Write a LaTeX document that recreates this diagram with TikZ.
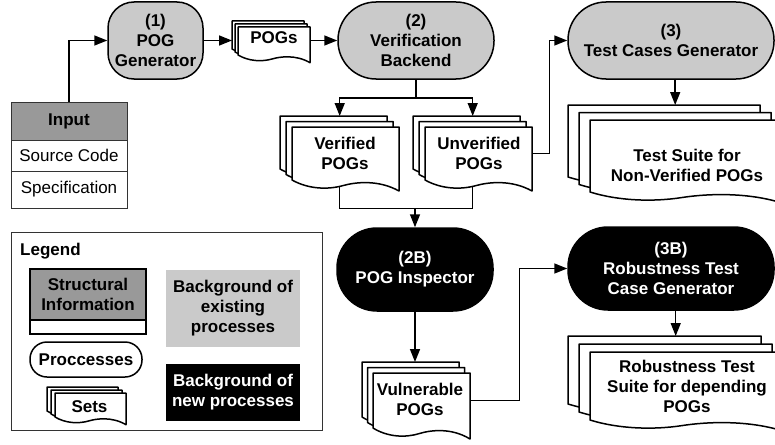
\documentclass[tikz,border=0pt]{standalone}
\usepackage{fontspec}
\setmainfont{Liberation Sans}
\usetikzlibrary{arrows.meta}
\pgfdeclarelayer{background}
\pgfsetlayers{background,main}
\definecolor{procgray}{HTML}{CACACA}
\definecolor{hdrgray}{HTML}{999999}
\definecolor{tblline}{HTML}{333333}
\newcommand\dfont{\fontsize{17}{20}\selectfont}
\newcommand\docpage[5]{%
  \draw[docline] ({#1},{#2}) -- ({#1+#3},{#2}) -- ({#1+#3},{#2+#4+1.1*#5})
    .. controls ({#1+0.8*#3},{#2+#4-0.1*#5}) and ({#1+0.58*#3},{#2+#4+0.25*#5}) .. ({#1+0.48*#3},{#2+#4+0.55*#5})
    .. controls ({#1+0.33*#3},{#2+#4+1.0*#5}) and ({#1+0.15*#3},{#2+#4+0.9*#5}) .. ({#1},{#2+#4}) -- cycle;}
\newcommand\docstack[8]{%
  \docpage{#2}{#3}{#6}{#7}{#8}%
  \docpage{#2+#4}{#3+#5}{#6}{#7}{#8}%
  \docpage{#2+2*#4}{#3+2*#5}{#6}{#7}{#8}%
  \pgfmathsetmacro\dsfx{#2+2*#4}\pgfmathsetmacro\dsfy{#3+2*#5}%
  \pgfmathsetmacro\dsaw{#6+2*#4}\pgfmathsetmacro\dsah{#7+2*#5}%
  \node[inner sep=0pt, minimum width=#6pt, minimum height=#7pt, anchor=north west] (#1) at (\dsfx,\dsfy) {};
  \node[inner sep=0pt, minimum width=\dsaw pt, minimum height=\dsah pt, anchor=north west] (#1all) at (#2,#3) {};
}
\tikzset{
  docline/.style={draw=black, line width=1.5pt, fill=white, line join=round},
  proc/.style={draw=black, line width=1.5pt, fill=procgray, align=center, font=\dfont\bfseries, inner sep=0pt},
  newproc/.style={proc, fill=black, text=white},
  doctext/.style={align=center, font=\dfont\bfseries, inner sep=0pt},
  arr/.style={line width=1.5pt, -{Triangle[length=13pt,width=10pt]}},
  conn/.style={line width=1.5pt},
  tblcell/.style={draw=tblline, line width=1pt, fill=white, font=\dfont, inner sep=0pt, minimum width=116pt},
}
\begin{document}
\begin{tikzpicture}[x=1pt,y=-1pt]
\useasboundingbox (0,0) rectangle (775,444);
% processes
\node[proc, minimum width=95pt, minimum height=77pt, rounded corners=26pt] (gen) at (155.5,40.5) {(1)\\POG\\Generator};
\node[proc, minimum width=156pt, minimum height=77pt, rounded corners=38pt] (vb) at (416,40.5) {(2)\\Verification\\Backend};
\node[proc, minimum width=206pt, minimum height=77pt, rounded corners=38pt] (tcg) at (671,40.5) {(3)\\Test Cases Generator};
\node[newproc, minimum width=156pt, minimum height=83pt, rounded corners=40pt] (insp) at (415,269.5) {(2B)\\POG Inspector};
\node[newproc, minimum width=206pt, minimum height=83pt, rounded corners=40pt] (rob) at (671,268.5) {(3B)\\Robustness Test\\Case Generator};
% input table
\node[tblcell, fill=hdrgray, minimum height=38pt, font=\dfont\bfseries] (inp) at (69,121) {Input};
\node[tblcell, minimum height=31pt] (src) at (69,155.5) {Source Code};
\node[tblcell, minimum height=37pt] (spec) at (69,189.5) {Specification};
% document stacks
\docstack{pogs}{232}{21}{3}{3}{72}{28}{7}
\docstack{ver}{280}{116}{6}{5.5}{107}{53}{10}
\docstack{unv}{413}{116}{6}{5.5}{107}{53}{10}
\docstack{ts}{568}{105}{11}{7.5}{192}{72}{10}
\docstack{vul}{362}{362}{5.5}{5.5}{97}{55}{10}
\docstack{rs}{568}{336}{11}{8}{193}{68}{10}
\node[doctext] (pogst) at (274,38) {POGs};
\node[doctext] (vert) at (345,153) {Verified\\POGs};
\node[doctext] (unvt) at (479,153) {Unverified\\POGs};
\node[doctext] (tst) at (687,165) {Test Suite for\\Non-Verified POGs};
\node[doctext] (vult) at (420,399) {Vulnerable\\POGs};
\node[doctext] (rst) at (687,386) {Robustness Test\\Suite for depending\\POGs};
% legend
\node[draw=tblline, line width=1pt, minimum width=311pt, minimum height=198pt, inner sep=0pt] (leg) at (166.5,331) {};
\node[anchor=base west, font=\dfont\bfseries, inner sep=0pt] (legt) at (20,255) {Legend};
\node[draw=black, line width=1.5pt, fill=hdrgray, minimum width=116pt, minimum height=51pt, inner sep=0pt, align=center, font=\dfont\bfseries] (lstruct) at (88,294.5) {Structural\\Information};
\node[draw=black, line width=1.5pt, fill=white, minimum width=116pt, minimum height=14pt, inner sep=0pt] (lstructb) at (88,327) {};
\node[fill=procgray, minimum width=134pt, minimum height=77pt, inner sep=0pt, align=center, font=\dfont\bfseries] (lexist) at (233,308.5) {Background of\\existing\\processes};
\node[draw=black, line width=1.5pt, fill=white, rounded corners=17pt, minimum width=112pt, minimum height=35pt, inner sep=0pt, font=\dfont\bfseries] (lproc) at (86,359.5) {Proccesses};
\docstack{sets}{47}{387}{4}{3}{71}{24}{7}
\node[doctext] (setst) at (89.5,406.5) {Sets};
\node[fill=black, text=white, minimum width=134pt, minimum height=57pt, inner sep=0pt, align=center, font=\dfont\bfseries] (lnew) at (233,392.5) {Background of\\new processes};
% connectors
\begin{pgfonlayer}{background}
\draw[arr] (inp.north) |- (gen.west);
\draw[arr] (gen.east) -- (gen.east -| pogsall.west);
\draw[arr] (pogs.east |- vb.west) -- (vb.west);
\path (vb.south) ++(0,18) coordinate (split);
\draw[conn] (vb.south) -- (split);
\draw[arr] (split) -| (verall.north);
\draw[arr] (split) -| (unvall.north);
\path (insp.north) ++(0,-19) coordinate (merge);
\draw[conn] (verall.center) |- (merge);
\draw[conn] (unvall.center) |- (merge);
\draw[arr] (merge) -- (insp.north);
\draw[arr] (unv.east) -- ++(17,0) |- (tcg.west);
\draw[arr] (tsall.north |- tcg.south) -- (tsall.north);
\draw[arr] (insp.south) -- (insp.south |- vulall.north);
\draw[arr] (vul.east) -- ++(49,0) |- (rob.west);
\draw[arr] (rsall.north |- rob.south) -- (rsall.north);
\end{pgfonlayer}
\end{tikzpicture}
\end{document}
